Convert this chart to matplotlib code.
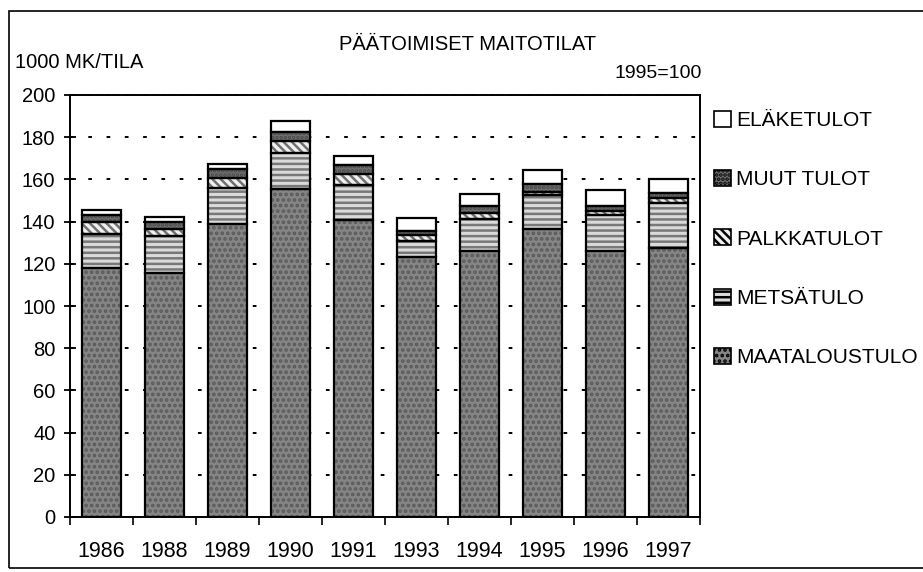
import numpy as np
import matplotlib.pyplot as plt
from matplotlib.patches import Patch, Rectangle

vuodet = ['1986', '1988', '1989', '1990', '1991', '1993', '1994', '1995', '1996', '1997']

# tulolajit, 1000 mk/tila (1995=100)
maataloustulo = [117.8, 115.8, 138.7, 155.3, 140.8, 123.4, 126.2, 136.3, 126.2, 127.3]
metsatulo = [16.5, 17.4, 17.4, 17.1, 16.4, 7.4, 15.2, 16.2, 16.8, 21.7]
palkkatulot = [5.5, 3.4, 4.8, 5.9, 5.3, 2.7, 2.8, 1.6, 2.0, 2.4]
muut_tulot = [3.3, 3.0, 3.9, 4.4, 4.4, 2.1, 3.2, 3.6, 2.4, 2.0]
elaketulot = [2.4, 2.7, 2.7, 5.1, 4.0, 6.3, 5.9, 6.8, 7.5, 7.0]

sarjat = ['MAATALOUSTULO', 'METSÄTULO', 'PALKKATULOT', 'MUUT TULOT', 'ELÄKETULOT']
arvot = [maataloustulo, metsatulo, palkkatulot, muut_tulot, elaketulot]

# (täyttö, kuvion väri, kuvio)
tyylit = [
    ('#858585', '#5a5a5a', '...'),
    ('#dadada', '#787878', '---'),
    ('#f0f0f0', '#707070', '\\\\\\\\'),
    ('#707070', '#4a4a4a', '....'),
    ('#ffffff', '#ffffff', None),
]

plt.rcParams['font.family'] = ['Liberation Sans', 'DejaVu Sans']
plt.rcParams['hatch.linewidth'] = 1.8

fig = plt.figure(figsize=(9.23, 5.72), dpi=100)
ax = fig.add_axes([70/923, 1 - 517/572, 630/923, 422/572])

x = np.arange(len(vuodet))
leveys = 0.62
pohja = np.zeros(len(vuodet))
for nimi, arvo, (fc, hc, hatch) in zip(sarjat, arvot, tyylit):
    arvo = np.array(arvo)
    ax.bar(x, arvo, leveys, bottom=pohja, color=fc, edgecolor=hc,
           hatch=hatch, linewidth=0, zorder=2)
    ax.bar(x, arvo, leveys, bottom=pohja, fill=False, edgecolor='black',
           linewidth=1.6, zorder=3)
    pohja += arvo

ax.set_xlim(-0.5, len(vuodet) - 0.5)
ax.set_ylim(0, 200)
ax.set_yticks(np.arange(0, 201, 20))
ax.set_xticks(x)
ax.set_xticklabels(vuodet)
ax.set_xticks(np.arange(-0.5, len(vuodet), 1), minor=True)
ax.tick_params(axis='y', direction='inout', length=9, width=1.3, labelsize=14.5, pad=6)
ax.tick_params(axis='x', which='major', length=0, labelsize=15.5, pad=17)
ax.tick_params(axis='x', which='minor', direction='out', length=6, width=1.2)

ax.yaxis.grid(True, linestyle=(0, (1.9, 7.5)), color='black', linewidth=1.4)
ax.set_axisbelow(True)
for s in ax.spines.values():
    s.set_linewidth(1.4)

fig.text(468/923, 1 - 45/572, 'PÄÄTOIMISET MAITOTILAT', ha='center', va='center', fontsize=14.5)
fig.text(15/923, 1 - 63/572, '1000 MK/TILA', ha='left', va='center', fontsize=14.5)
fig.text(702/923, 1 - 73/572, '1995=100', ha='right', va='center', fontsize=14)

kahvat = [Patch(facecolor=fc, edgecolor='black', hatch=hatch, linewidth=1.2)
          for fc, hc, hatch in tyylit]
fig.legend(kahvat[::-1], sarjat[::-1], loc='upper left',
           bbox_to_anchor=(714/923, 1 - 111/572), frameon=False, fontsize=15,
           handlelength=0.8, handleheight=0.8, handletextpad=0.25,
           labelspacing=1.92, borderpad=0, borderaxespad=0)

fig.patches.append(Rectangle((9/923, 1 - 568/572), 1.0, 557/572, transform=fig.transFigure,
                             fill=False, edgecolor='black', linewidth=1.2))

plt.savefig('out.png', dpi=100)
